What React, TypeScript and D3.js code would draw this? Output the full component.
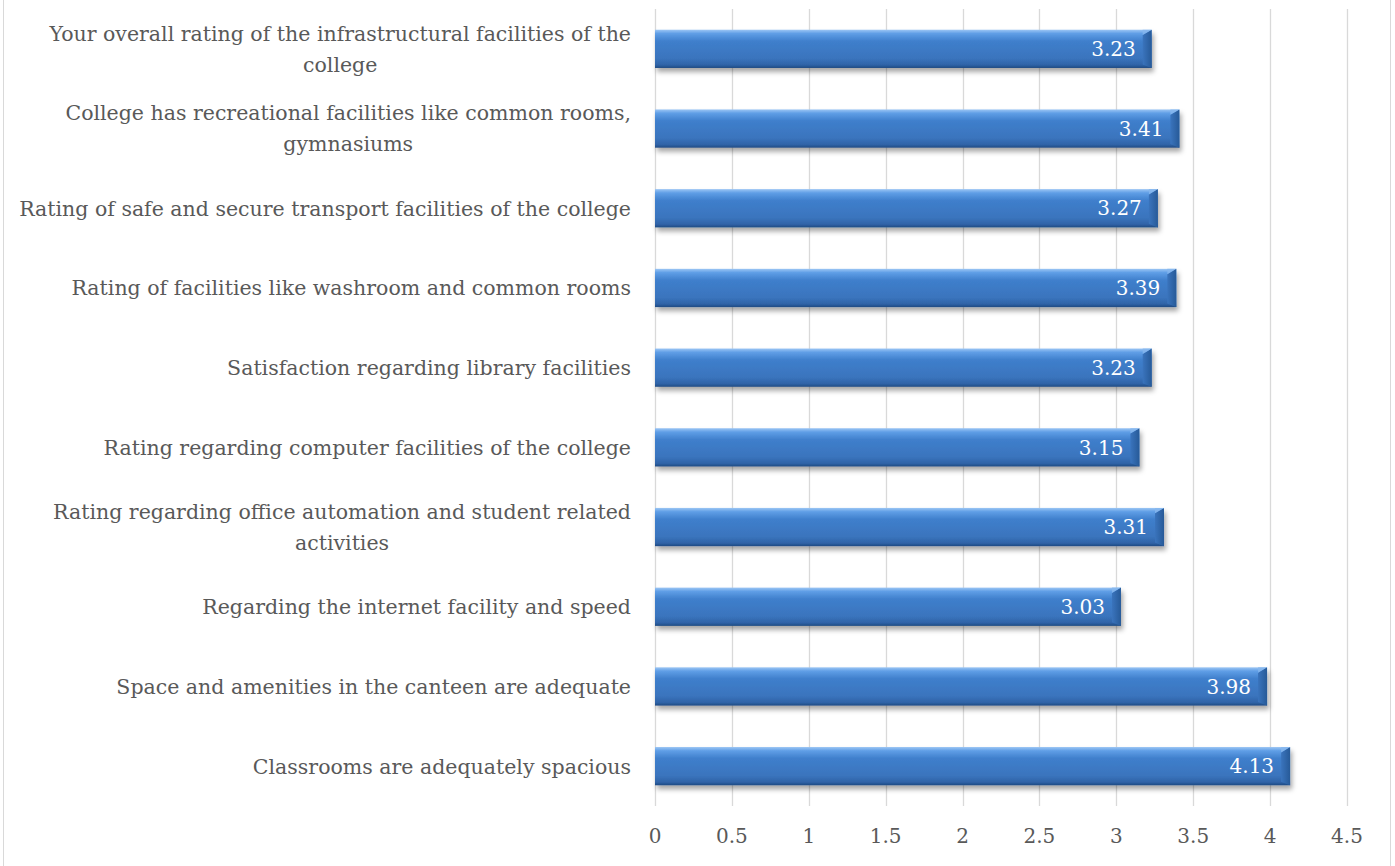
import React, { useRef, useEffect } from 'react';
import * as d3 from 'd3';

// categories top-to-bottom, line breaks as in the original chart
const categories: string[][] = [
  ['Your overall rating of the infrastructural facilities of the', 'college'],
  ['College has recreational facilities like common rooms,', 'gymnasiums'],
  ['Rating of safe and secure transport facilities of the college'],
  ['Rating of facilities like washroom and common rooms'],
  ['Satisfaction regarding library facilities'],
  ['Rating regarding computer facilities of the college'],
  ['Rating regarding office automation and student related', 'activities'],
  ['Regarding the internet facility and speed'],
  ['Space and amenities in the canteen are adequate'],
  ['Classrooms are adequately spacious'],
];
const values = [3.23, 3.41, 3.27, 3.39, 3.23, 3.15, 3.31, 3.03, 3.98, 4.13];
const xTicks = [0, 0.5, 1, 1.5, 2, 2.5, 3, 3.5, 4, 4.5];

const W = 1395;
const H = 866;
const FONT = '"DejaVu Serif", serif';

export default function App() {
  const svgRef = useRef<SVGSVGElement>(null);

  useEffect(() => {
    document.body.style.margin = '0';
    if (!svgRef.current) return;
    const svg = d3.select(svgRef.current);
    svg.selectAll('*').remove();

    const margin = { top: 9, right: 48, bottom: 60, left: 655 };
    const innerW = W - margin.left - margin.right;
    const innerH = H - margin.top - margin.bottom;

    const defs = svg.append('defs');
    const grad = defs.append('linearGradient')
      .attr('id', 'barGrad').attr('x1', 0).attr('y1', 0).attr('x2', 0).attr('y2', 1);
    [
      ['0%', '#9cc6f4'], ['10%', '#5f9ee6'], ['30%', '#3f7fcc'],
      ['75%', '#3a74bd'], ['92%', '#2f63a7'], ['100%', '#1f4a82'],
    ].forEach(([o, c]) => grad.append('stop').attr('offset', o).attr('stop-color', c));

    const bevel = defs.append('linearGradient')
      .attr('id', 'bevelGrad').attr('x1', 0).attr('y1', 0).attr('x2', 1).attr('y2', 0);
    bevel.append('stop').attr('offset', '0%').attr('stop-color', '#3a74bd');
    bevel.append('stop').attr('offset', '100%').attr('stop-color', '#275a98');

    const shadow = defs.append('filter').attr('id', 'shadow')
      .attr('x', '-5%').attr('y', '-30%').attr('width', '110%').attr('height', '180%');
    shadow.append('feDropShadow')
      .attr('dx', 2).attr('dy', 4).attr('stdDeviation', 2.5)
      .attr('flood-color', '#000').attr('flood-opacity', 0.35);

    // chart border
    svg.append('rect')
      .attr('x', 3.5).attr('y', -2).attr('width', W - 8).attr('height', H + 4)
      .attr('fill', 'white').attr('stroke', '#d9d9d9').attr('stroke-width', 1);

    const g = svg.append('g').attr('transform', `translate(${margin.left},${margin.top})`);

    const x = d3.scaleLinear().domain([0, 4.5]).range([0, innerW]);
    const y = d3.scaleBand<number>()
      .domain(d3.range(categories.length))
      .range([0, innerH])
      .paddingInner(0.52)
      .paddingOuter(0.26);

    // gridlines
    g.selectAll('.grid')
      .data(xTicks)
      .enter().append('line')
      .attr('x1', d => Math.round(x(d)) + 0.5).attr('x2', d => Math.round(x(d)) + 0.5)
      .attr('y1', 0).attr('y2', innerH)
      .attr('stroke', '#d9d9d9').attr('stroke-width', 1.3);

    // tick labels
    g.selectAll('.tick')
      .data(xTicks)
      .enter().append('text')
      .attr('x', d => x(d)).attr('y', innerH + 37)
      .attr('text-anchor', 'middle')
      .attr('font-family', FONT).attr('font-size', 20)
      .attr('fill', '#595959')
      .text(d => String(d));

    // bars
    const bars = g.selectAll('.bar')
      .data(values)
      .enter().append('g')
      .attr('transform', (d, i) => `translate(0,${y(i)})`);

    const bh = y.bandwidth();
    bars.append('rect')
      .attr('x', 0).attr('y', 0)
      .attr('width', d => x(d)).attr('height', bh)
      .attr('fill', 'url(#barGrad)')
      .attr('filter', 'url(#shadow)');

    // right-end bevel
    const bv = 9;
    bars.append('path')
      .attr('d', d => {
        const r = x(d);
        return `M${r - bv},${bv * 0.6} L${r},0 L${r},${bh} L${r - bv},${bh - bv * 0.4} Z`;
      })
      .attr('fill', 'url(#bevelGrad)');
    bars.append('path')
      .attr('d', d => {
        const r = x(d);
        return `M${r - bv},${bv * 0.6} L${r},0 L${r - bv},0 Z`;
      })
      .attr('fill', '#86b6ee').attr('opacity', 0.8);

    // value labels
    bars.append('text')
      .attr('x', d => x(d) - 16)
      .attr('y', bh / 2)
      .attr('dy', '0.36em')
      .attr('text-anchor', 'end')
      .attr('font-family', FONT).attr('font-size', 20)
      .attr('fill', 'white')
      .text(d => d.toFixed(2));

    // category labels
    const labelRight = -24;
    const lineH = 31;
    categories.forEach((lines, i) => {
      const cy = (y(i) as number) + bh / 2;
      const grp = g.append('g');
      const texts = lines.map((ln, k) =>
        grp.append('text')
          .attr('y', cy + (k - (lines.length - 1) / 2) * lineH)
          .attr('dy', '0.36em')
          .attr('text-anchor', 'middle')
          .attr('font-family', FONT).attr('font-size', 20.5)
          .attr('fill', '#595959')
          .text(ln));
      const maxW = d3.max(texts, t => (t.node() as SVGTextElement).getComputedTextLength()) || 0;
      texts.forEach(t => t.attr('x', labelRight - maxW / 2));
    });
  }, []);

  return <svg ref={svgRef} width={W} height={H} style={{ display: 'block' }} />;
}
